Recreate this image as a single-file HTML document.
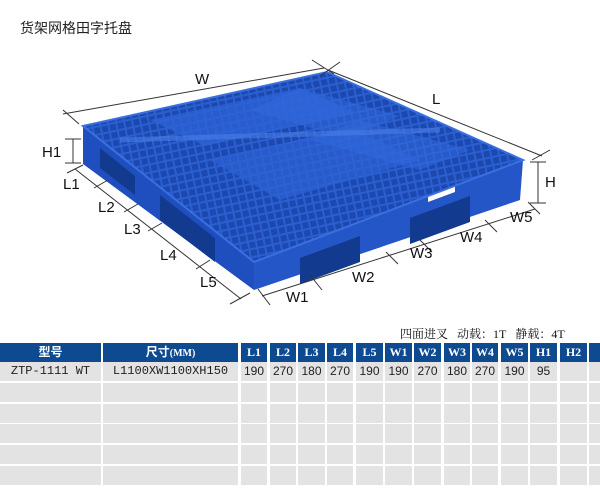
<!DOCTYPE html>
<html><head><meta charset="utf-8"><style>
body{margin:0;width:600px;height:493px;background:#fff;position:relative;overflow:hidden;font-family:"Liberation Sans","Noto Sans CJK SC",sans-serif}
.t{position:absolute;left:20px;top:18px;font-size:14px;color:#222}
.load{position:absolute;left:400px;top:325px;font-size:12px;color:#111;white-space:nowrap;font-family:"Liberation Serif","Noto Serif CJK SC",serif}
.c{position:absolute;height:19px;line-height:19px;text-align:center;font-size:12px}
.h{background:#0d4a8f;color:#fff;font-weight:bold;font-family:"Liberation Serif","Noto Sans CJK SC",serif}
.g{background:#e3e3e3;color:#222}
.m{font-family:"Liberation Mono",monospace}
</style></head><body>
<div class="t">货架网格田字托盘</div>
<svg width="600" height="320" style="position:absolute;left:0;top:0">
<defs>
<pattern id="gr" width="8" height="8" patternUnits="userSpaceOnUse" patternTransform="rotate(-12)">
<rect width="8" height="8" fill="#2a5fd0"/><rect x="1" y="1" width="6" height="6" fill="#1c48b0"/>
</pattern>
</defs>
<polygon points="83,126 254,262 254,290 83,164" fill="#1f4fbf"/>
<polygon points="254,262 523,160 520,200 254,290" fill="#2456c8"/>
<polygon points="100,148 135,176 135,195 100,168" fill="#123a8f"/>
<polygon points="160,195 215,238 215,262 160,220" fill="#123a8f"/>
<polygon points="300,258 360,236 360,262 300,284" fill="#123a8f"/>
<polygon points="410,218 470,196 470,222 410,244" fill="#123a8f"/>
<polygon points="310,235 345,222 345,228 310,241" fill="#fff"/>
<polygon points="428,196 455,186 455,192 428,202" fill="#fff"/>
<polygon points="83,126 327,72 523,160 254,262" fill="url(#gr)" stroke="#3a6fe0" stroke-width="2"/>
<polygon points="150,120 300,88 355,112 205,146" fill="#2d63d6" opacity=".8"/>
<polygon points="300,88 400,116 345,138 250,110" fill="#3168da" opacity=".6"/>
<polygon points="210,160 350,128 420,160 280,200" fill="#2d63d6" opacity=".7"/>
<polygon points="360,120 470,150 420,170 310,140" fill="#3168da" opacity=".6"/>
<line x1="120" y1="140" x2="440" y2="130" stroke="#4a7ee6" stroke-width="5" opacity=".6"/>
<g stroke="#333" stroke-width="1" fill="none">
<line x1="63" y1="114" x2="324" y2="68"/><line x1="63" y1="110" x2="79" y2="124"/><line x1="312" y1="60" x2="334" y2="74"/>
<line x1="328" y1="70" x2="542" y2="156"/><line x1="320" y1="76" x2="340" y2="62"/><line x1="532" y1="160" x2="550" y2="150"/>
<line x1="75" y1="169" x2="241" y2="299"/>
<line x1="67" y1="173" x2="83" y2="165"/><line x1="94" y1="188" x2="108" y2="180"/><line x1="124" y1="212" x2="138" y2="204"/><line x1="148" y1="231" x2="162" y2="223"/><line x1="196" y1="269" x2="210" y2="260"/><line x1="230" y1="304" x2="250" y2="293"/>
<line x1="262" y1="296" x2="535" y2="209"/>
<line x1="258" y1="289" x2="270" y2="305"/><line x1="310" y1="275" x2="322" y2="290"/><line x1="386" y1="252" x2="398" y2="264"/><line x1="420" y1="240" x2="432" y2="252"/><line x1="485" y1="220" x2="497" y2="232"/><line x1="528" y1="202" x2="540" y2="214"/>
<line x1="73" y1="139" x2="73" y2="163"/><line x1="65" y1="139" x2="81" y2="139"/><line x1="65" y1="163" x2="81" y2="163"/>
<line x1="538" y1="162" x2="538" y2="203"/><line x1="530" y1="162" x2="546" y2="162"/><line x1="530" y1="203" x2="546" y2="203"/>
</g>
<g font-size="15" fill="#111" font-family="Liberation Sans,sans-serif">
<text x="195" y="84">W</text><text x="432" y="104">L</text>
<text x="42" y="157">H1</text><text x="545" y="187">H</text>
<text x="63" y="189">L1</text><text x="98" y="212">L2</text><text x="124" y="234">L3</text><text x="160" y="260">L4</text><text x="200" y="287">L5</text>
<text x="286" y="302">W1</text><text x="352" y="282">W2</text><text x="410" y="258">W3</text><text x="460" y="242">W4</text><text x="510" y="222">W5</text>
</g>
</svg>
<div class="load">四面进叉&nbsp;&nbsp; 动载：1T&nbsp;&nbsp; 静载：4T</div>
<div id="tb"></div>
<script>
var cols=[[0,101],[103,238],[241,267],[270,296],[298,325],[327,353],[356,383],[385,412],[414,441],[444,470],[472,498],[501,528],[530,557],[560,587],[589,600]];
var hd=["型号","尺寸<small>(MM)</small>","L1","L2","L3","L4","L5","W1","W2","W3","W4","W5","H1","H2",""];
var d1=["ZTP-1111 WT","L1100XW1100XH150","190","270","180","270","190","190","270","180","270","190","95","",""];
var rows=[343,362,383,404,424,445,466];var h="";
for(var r=0;r<rows.length;r++)for(var i=0;i<cols.length;i++){var c=cols[i];var txt=r==0?hd[i]:(r==1?d1[i]:"");
var cl=(r==0?'h':'g')+((r==1&&i<2)?' m':'');
h+='<div class="c '+cl+'" style="left:'+c[0]+'px;top:'+rows[r]+'px;width:'+(c[1]-c[0])+'px">'+txt+'</div>';}
document.getElementById("tb").innerHTML=h;
</script>
</body></html>
